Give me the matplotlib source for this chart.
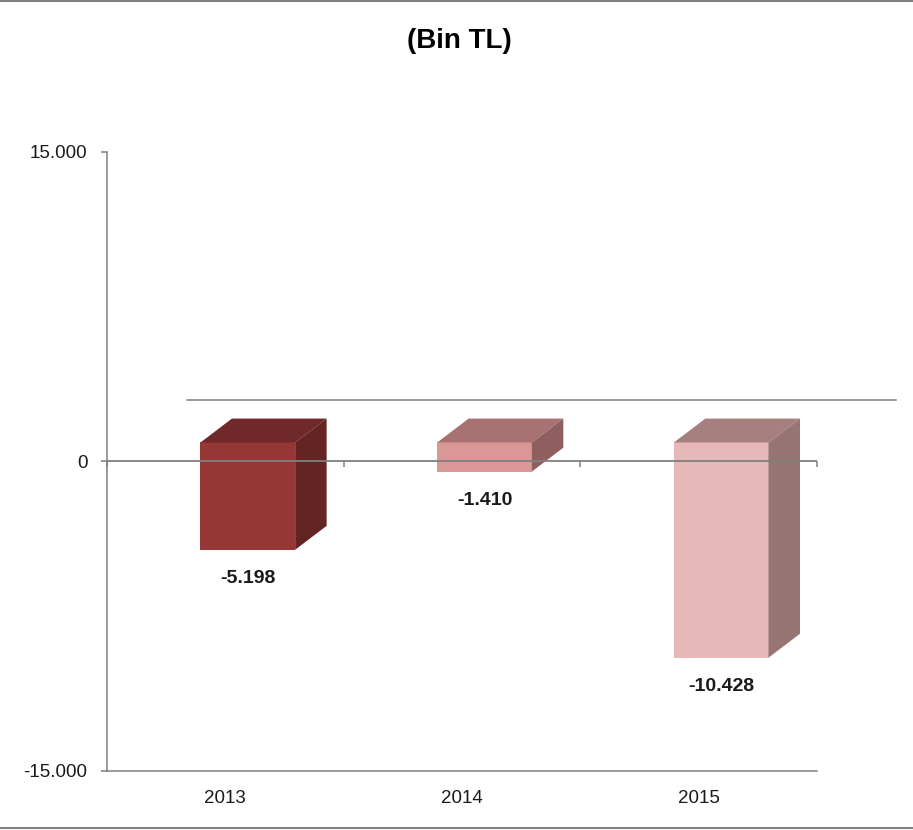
import matplotlib
matplotlib.use('Agg')
import matplotlib.pyplot as plt
from matplotlib.lines import Line2D

plt.rcParams['font.family'] = ['Liberation Sans', 'DejaVu Sans']

# data
years = ['2013', '2014', '2015']
values = [-5198, -1410, -10428]
y_ticks = [-15000, 0, 15000]

# face colours (front, top, side) per bar
front_colors = ['#953735', '#d99795', '#e6b9b8']
top_colors = ['#70292a', '#a87272', '#a67f7f']
side_colors = ['#632423', '#8f5e5e', '#987575']


def tr_fmt(v):
    return f"{v:,.0f}".replace(',', '.')


fig = plt.figure(figsize=(9.13, 8.3), dpi=100)
ax = fig.add_axes([0.1172, 0.0711, 0.7777, 0.7458])

# pseudo-3d geometry (Excel style)
w = 0.40          # front face width (category units)
shift = -0.105    # front face left edge relative to category
dx = 0.133        # depth in x
dy = 1160         # depth in y (data units)
lift = 920        # front face zero sits above the axis

for i, v in enumerate(values):
    x0 = i + shift
    t = lift
    b = v + lift
    ax.fill([x0, x0 + w, x0 + w, x0], [b, b, t, t], color=front_colors[i], lw=0, zorder=2)
    ax.fill([x0, x0 + w, x0 + w + dx, x0 + dx], [t, t, t + dy, t + dy],
            color=top_colors[i], lw=0, zorder=2)
    ax.fill([x0 + w, x0 + w, x0 + w + dx, x0 + w + dx], [b, t, t + dy, b + dy],
            color=side_colors[i], lw=0, zorder=2)
    ax.annotate(tr_fmt(v), (x0 + w / 2, v), xytext=(0, -1), textcoords='offset points',
                ha='center', va='top', fontsize=14, fontweight='bold', color='#1a1a1a')

# back wall line
ax.plot([-0.162, 2.834], [3000, 3000], color='#808080', lw=1.1, clip_on=False, zorder=1)

# zero line drawn over the bars
ax.axhline(0, color='#808080', lw=1.3, zorder=3)

ax.set_xlim(-0.5, 2.5)
ax.set_ylim(-15000, 15000)

for s in ['top', 'right']:
    ax.spines[s].set_visible(False)
for s in ['left', 'bottom']:
    ax.spines[s].set_color('#808080')
    ax.spines[s].set_linewidth(1.1)

ax.set_yticks(y_ticks)
ax.set_yticklabels([tr_fmt(v) for v in y_ticks])
ax.tick_params(axis='y', length=4, width=1.1, color='#808080', pad=10,
               labelsize=13.5, labelcolor='#1a1a1a')
ax.set_xticks(range(len(years)))
ax.set_xticklabels(years)
ax.tick_params(axis='x', length=0, pad=14, labelsize=13.5, labelcolor='#1a1a1a')

# category boundary ticks on the zero line (pointing down)
zax = ax.secondary_xaxis(0.5)
for s in zax.spines.values():
    s.set_visible(False)
zax.set_xticks([-0.5, 0.5, 1.5, 2.5])
zax.set_xticklabels([])
zax.tick_params(length=4, width=1.1, color='#808080', direction='in')

fig.text(0.503, 0.950, '(Bin TL)', ha='center', va='center', fontsize=20,
         fontweight='bold', color='black')

# outer border lines
fig.add_artist(Line2D([0, 1], [0.9988, 0.9988], color='#808080', lw=1.5))
fig.add_artist(Line2D([0, 1], [0.0024, 0.0024], color='#808080', lw=1.5))

fig.savefig('out.png', dpi=100)
